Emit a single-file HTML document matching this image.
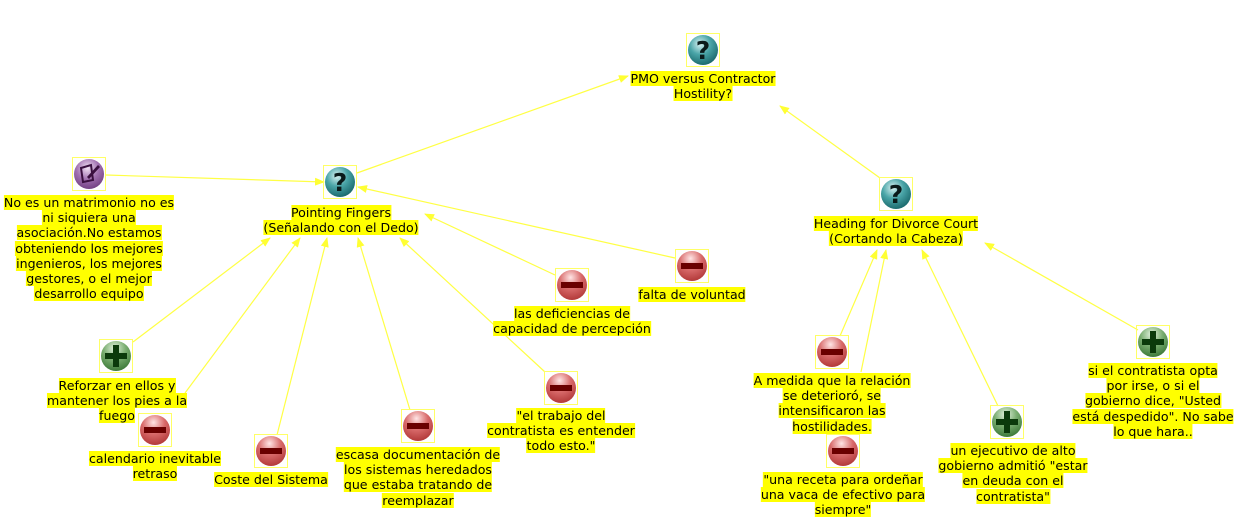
<!DOCTYPE html>
<html><head><meta charset="utf-8"><style>
body{margin:0;width:1241px;height:520px;background:#fff;position:relative;overflow:hidden;font-family:"DejaVu Sans","Liberation Sans",sans-serif;font-size:12.6px;}
.l{position:absolute;transform:translateX(-50%);text-align:center;line-height:15.2px;white-space:nowrap;color:#000;}
.l span{background:#ffff00;}
svg{position:absolute;left:0;top:0;}
</style></head><body>
<svg width="1241" height="520">
<defs>
<radialGradient id="q" cx="40%" cy="30%" r="70%"><stop offset="0" stop-color="#d8f2f2"/><stop offset="0.5" stop-color="#4aa5a8"/><stop offset="1" stop-color="#1d6c70"/></radialGradient>
<radialGradient id="m" cx="45%" cy="25%" r="75%"><stop offset="0" stop-color="#ffe5e5"/><stop offset="0.5" stop-color="#d86a6a"/><stop offset="1" stop-color="#b33a3a"/></radialGradient>
<radialGradient id="p" cx="45%" cy="25%" r="75%"><stop offset="0" stop-color="#e2f2de"/><stop offset="0.5" stop-color="#79ad70"/><stop offset="1" stop-color="#3e7a3a"/></radialGradient>
<radialGradient id="n" cx="45%" cy="30%" r="75%"><stop offset="0" stop-color="#f2e2f4"/><stop offset="0.5" stop-color="#a070b0"/><stop offset="1" stop-color="#6d3b7e"/></radialGradient>
<marker id="a" markerWidth="10" markerHeight="8" refX="9" refY="4" orient="auto" markerUnits="userSpaceOnUse"><path d="M0,0 L10,4 L0,8 z" fill="#ffff33"/></marker>
<symbol id="Q" viewBox="-17 -17 34 34"><rect x="-16.5" y="-16.5" width="33" height="33" fill="none" stroke="#ffff66"/><circle r="15" fill="url(#q)"/><text x="0" y="9" text-anchor="middle" font-family="DejaVu Sans" font-weight="bold" font-size="25" fill="#0a1a1a">?</text></symbol>
<symbol id="M" viewBox="-17 -17 34 34"><rect x="-16.5" y="-16.5" width="33" height="33" fill="none" stroke="#ffff66"/><circle r="15" fill="url(#m)"/><rect x="-11" y="-3" width="22" height="6" fill="#6a0000"/></symbol>
<symbol id="P" viewBox="-17 -17 34 34"><rect x="-16.5" y="-16.5" width="33" height="33" fill="none" stroke="#ffff66"/><circle r="15" fill="url(#p)"/><rect x="-11" y="-3" width="22" height="6" fill="#0b3a0b"/><rect x="-3" y="-11" width="6" height="22" fill="#0b3a0b"/></symbol>
<symbol id="N" viewBox="-17 -17 34 34"><rect x="-16.5" y="-16.5" width="33" height="33" fill="none" stroke="#ffff66"/><circle r="15" fill="url(#n)"/><path d="M-8,-6 L2,-9 L4,6 L-6,8 z" fill="none" stroke="#3a1040" stroke-width="2"/><path d="M-2,3 L9,-9 L11,-7 L0,5 z" fill="#3a1040"/></symbol>
</defs>
<g stroke="#ffff44" stroke-width="1.2" fill="none" marker-end="url(#a)">
<line x1="357" y1="173" x2="628" y2="76"/>
<line x1="880" y1="178" x2="780" y2="106"/>
<line x1="106" y1="175" x2="324" y2="182"/>
<line x1="133" y1="342" x2="270" y2="238"/>
<line x1="185" y1="393" x2="300" y2="238"/>
<line x1="277" y1="435" x2="327" y2="238"/>
<line x1="410" y1="410" x2="358" y2="238"/>
<line x1="545" y1="372" x2="400" y2="238"/>
<line x1="555" y1="275" x2="425" y2="214"/>
<line x1="675" y1="258" x2="358" y2="187"/>
<line x1="840" y1="336" x2="877" y2="250"/>
<line x1="861" y1="372" x2="886" y2="250"/>
<line x1="998" y1="406" x2="922" y2="250"/>
<line x1="1138" y1="330" x2="985" y2="243"/>
</g>
<use href="#Q" x="686" y="33" width="34" height="34"/>
<use href="#Q" x="323" y="165" width="34" height="34"/>
<use href="#Q" x="879" y="177" width="34" height="34"/>
<use href="#N" x="72" y="157" width="34" height="34"/>
<use href="#P" x="99" y="339" width="34" height="34"/>
<use href="#M" x="138" y="413" width="34" height="34"/>
<use href="#M" x="254" y="434" width="34" height="34"/>
<use href="#M" x="401" y="409" width="34" height="34"/>
<use href="#M" x="544" y="371" width="34" height="34"/>
<use href="#M" x="555" y="268" width="34" height="34"/>
<use href="#M" x="675" y="249" width="34" height="34"/>
<use href="#M" x="815" y="335" width="34" height="34"/>
<use href="#M" x="826" y="434" width="34" height="34"/>
<use href="#P" x="990" y="405" width="34" height="34"/>
<use href="#P" x="1136" y="325" width="34" height="34"/>
</svg>
<div class="l" style="left:703px;top:71px"><span>PMO versus Contractor </span><br><span>Hostility?</span></div>
<div class="l" style="left:341px;top:205px"><span>Pointing Fingers </span><br><span>(Señalando con el Dedo)</span></div>
<div class="l" style="left:89px;top:195px"><span>No es un matrimonio no es </span><br><span>ni siquiera una </span><br><span>asociación.No estamos </span><br><span>obteniendo los mejores </span><br><span>ingenieros, los mejores </span><br><span>gestores, o el mejor </span><br><span>desarrollo equipo </span></div>
<div class="l" style="left:896px;top:216px"><span>Heading for Divorce Court </span><br><span>(Cortando la Cabeza)</span></div>
<div class="l" style="left:117px;top:378px"><span>Reforzar en ellos y </span><br><span>mantener los pies a la </span><br><span>fuego </span></div>
<div class="l" style="left:155px;top:451px"><span>calendario inevitable </span><br><span>retraso</span></div>
<div class="l" style="left:271px;top:472px"><span>Coste del Sistema</span></div>
<div class="l" style="left:418px;top:447px"><span>escasa documentación de </span><br><span>los sistemas heredados </span><br><span>que estaba tratando de </span><br><span>reemplazar</span></div>
<div class="l" style="left:561px;top:408px"><span>"el trabajo del </span><br><span>contratista es entender </span><br><span>todo esto."</span></div>
<div class="l" style="left:572px;top:306px"><span>las deficiencias de </span><br><span>capacidad de percepción </span></div>
<div class="l" style="left:692px;top:287px"><span>falta de voluntad </span></div>
<div class="l" style="left:832px;top:373px"><span>A medida que la relación </span><br><span>se deterioró, se </span><br><span>intensificaron las </span><br><span>hostilidades.</span></div>
<div class="l" style="left:843px;top:472px"><span>"una receta para ordeñar </span><br><span>una vaca de efectivo para </span><br><span>siempre"</span></div>
<div class="l" style="left:1013px;top:443px"><span>un ejecutivo de alto </span><br><span>gobierno admitió "estar </span><br><span>en deuda con el </span><br><span>contratista"</span></div>
<div class="l" style="left:1153px;top:363px"><span>si el contratista opta </span><br><span>por irse, o si el </span><br><span>gobierno dice, "Usted </span><br><span>está despedido". No sabe </span><br><span>lo que hara..</span></div>
</body></html>
